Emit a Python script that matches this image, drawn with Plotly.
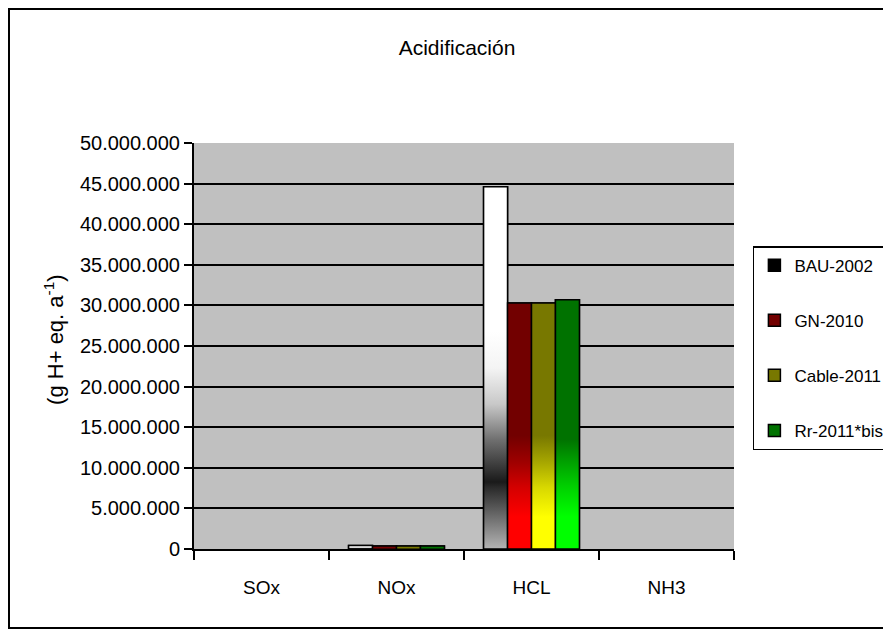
import plotly.graph_objects as go

categories = ["SOx", "NOx", "HCL", "NH3"]
series_names = ["BAU-2002", "GN-2010", "Cable-2011", "Rr-2011*bis"]
bau_2002 = [0, 420000, 44600000, 0]
gn_2010 = [0, 380000, 30300000, 0]
cable_2011 = [0, 360000, 30300000, 0]
rr_2011_bis = [0, 360000, 30700000, 0]
series_values = [bau_2002, gn_2010, cable_2011, rr_2011_bis]

legend_colors = ["#000000", "#720000", "#787800", "#007200"]
gradients = [
    [[0, "#b4b4b4"], [0.17, "#2a2a2a"], [0.185, "#1a1a1a"], [0.30, "#6e6e6e"],
     [0.40, "#c8c8c8"], [0.50, "#f4f4f4"], [0.60, "#ffffff"], [1, "#ffffff"]],
    [[0, "#ff0000"], [0.13, "#ff0000"], [0.25, "#d40000"], [0.35, "#a00000"],
     [0.46, "#720000"], [1, "#720000"]],
    [[0, "#ffff00"], [0.13, "#ffff00"], [0.25, "#d8d800"], [0.35, "#a8a800"],
     [0.46, "#787800"], [1, "#787800"]],
    [[0, "#00ff00"], [0.13, "#00ff00"], [0.25, "#00d000"], [0.35, "#00a000"],
     [0.44, "#007200"], [1, "#007200"]],
]

FONT = "Liberation Sans, Arial, sans-serif"
bargap = 0.29
n = len(series_names)
w = (1 - bargap) / n
xs = list(range(len(categories)))

fig = go.Figure()
for i, name in enumerate(series_names):
    fig.add_trace(go.Bar(
        x=xs, y=[v if v > 0 else None for v in series_values[i]], name=name, legendgroup=name,
        marker=dict(color=legend_colors[i], line=dict(color="black", width=1.5)),
    ))

# gradient fills over each bar (computed from the data and the group layout)
for i, name in enumerate(series_names):
    off = -0.5 * (1 - bargap) + (i + 0.5) * w
    for c, v in zip(xs, series_values[i]):
        if v <= 0:
            continue
        x0, x1 = c + off - w / 2, c + off + w / 2
        fig.add_trace(go.Scatter(
            x=[x0, x1, x1, x0, x0], y=[0, 0, v, v, 0],
            mode="lines", fill="toself",
            fillgradient=dict(type="vertical", colorscale=gradients[i], start=0, stop=v),
            line=dict(color="black", width=1.5),
            showlegend=False, hoverinfo="skip", legendgroup=name,
        ))

fig.update_layout(
    width=883, height=629,
    margin=dict(l=186, r=157, t=135, b=88, autoexpand=False),
    paper_bgcolor="white", plot_bgcolor="#c0c0c0",
    barmode="group", bargap=bargap, bargroupgap=0,
    separators=",.",
    font=dict(family=FONT, size=17, color="black"),
    title=dict(text="Acidificación", x=0.5085, xanchor="center", y=0.9364, yanchor="middle",
               font=dict(family=FONT, size=21, color="black")),
    showlegend=True,
    legend=dict(x=1.035, xanchor="left", y=0.746, yanchor="top",
                bordercolor="black", borderwidth=1.5, bgcolor="white",
                font=dict(family=FONT, size=17), traceorder="grouped",
                tracegroupgap=30, itemwidth=30),
    xaxis=dict(range=[-0.5, 3.5], tickmode="array", tickvals=xs, ticktext=categories,
               ticks="outside", ticklen=20, tickcolor="rgba(0,0,0,0)",
               showline=True, linecolor="black", linewidth=2, showgrid=False, zeroline=False,
               minor=dict(tickmode="linear", tick0=-0.5, dtick=1, ticks="outside",
                          ticklen=9, tickcolor="black", tickwidth=1.5, showgrid=False),
               tickfont=dict(family=FONT, size=19)),
    yaxis=dict(range=[0, 50000000], tickmode="linear", tick0=0, dtick=5000000,
               tickformat=",.0f", ticks="outside", ticklen=8, tickcolor="black", tickwidth=1.5,
               showline=True, linecolor="black", linewidth=2,
               showgrid=True, gridcolor="black", gridwidth=2, zeroline=False,
               tickfont=dict(family=FONT, size=20)),
    annotations=[dict(text="(g H+ eq. a<sup>-1</sup>)", xref="paper", yref="paper",
                      x=-0.2593, y=0.515, textangle=-90, showarrow=False,
                      xanchor="center", yanchor="middle",
                      font=dict(family=FONT, size=22, color="black"))],
    shapes=[dict(type="rect", xref="paper", yref="paper", x0=-0.3426, x1=1.45,
                 y0=-0.1946, y1=1.330, line=dict(color="black", width=2),
                 fillcolor="rgba(0,0,0,0)", layer="below")],
)

fig.write_html("out.html")
